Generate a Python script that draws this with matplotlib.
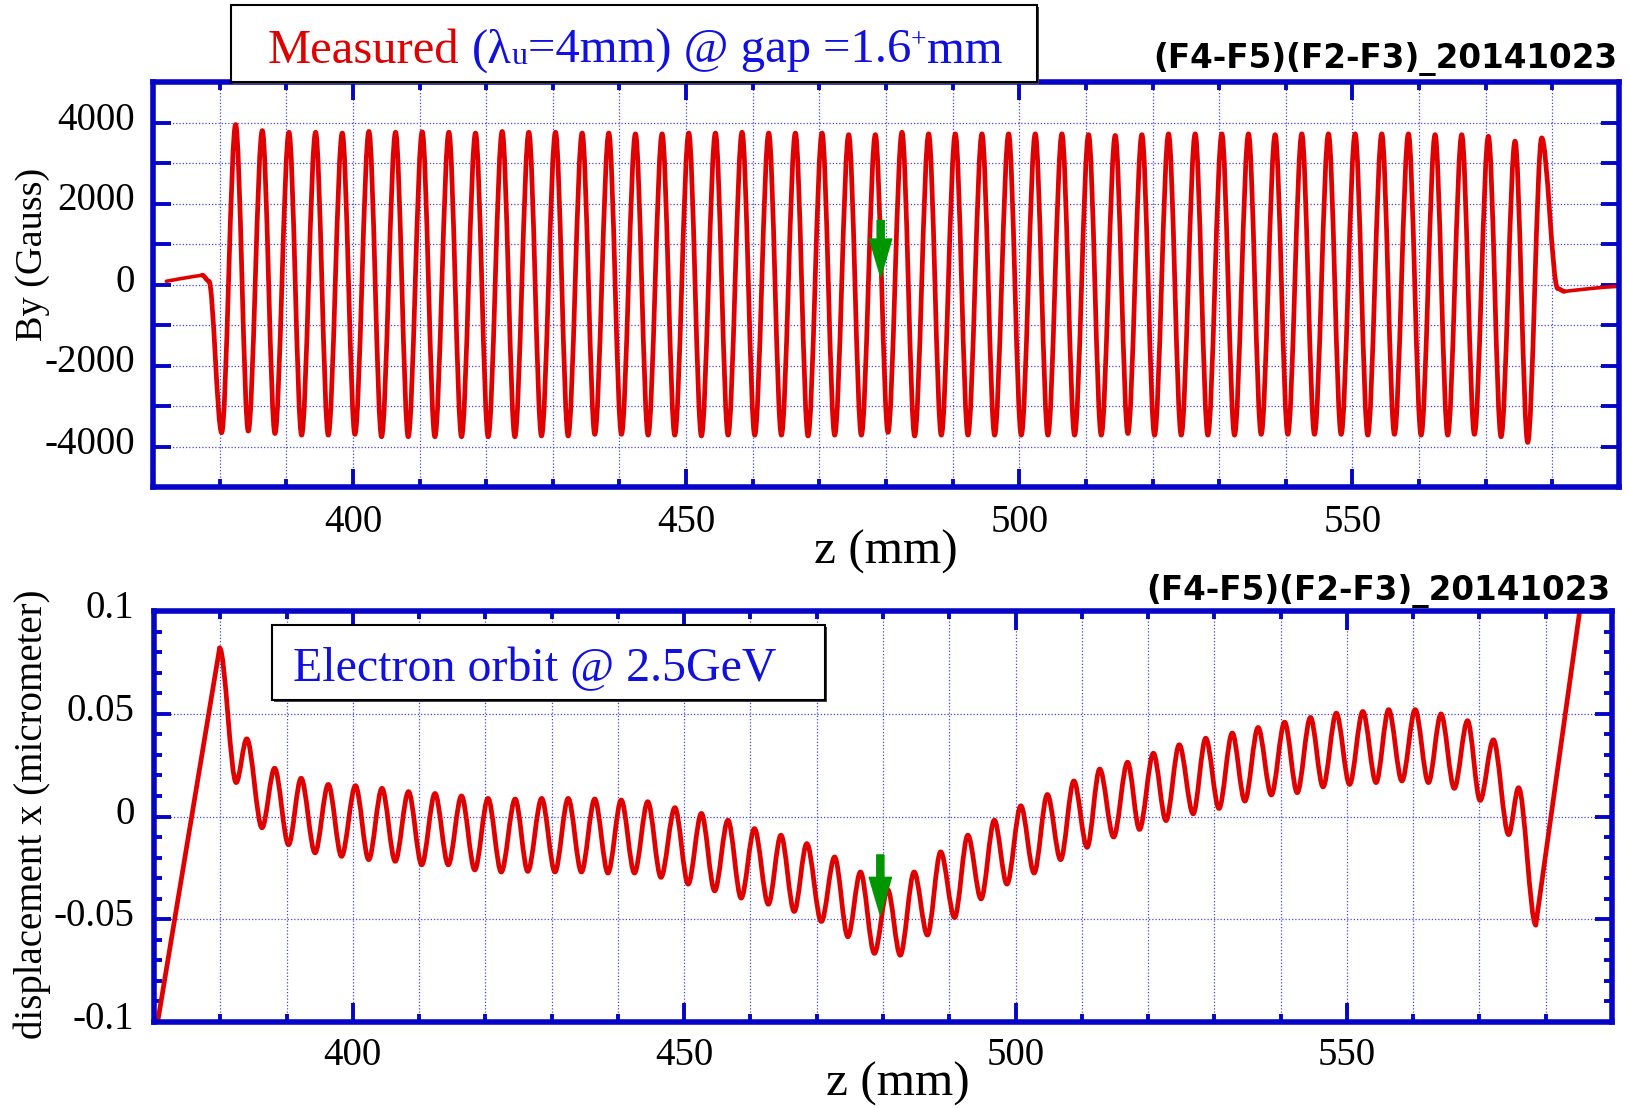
import matplotlib
matplotlib.use('Agg')
import matplotlib.pyplot as plt
from matplotlib.path import Path
from matplotlib.patches import PathPatch, Rectangle, FancyArrowPatch
from matplotlib.ticker import MultipleLocator, FuncFormatter
from matplotlib.transforms import ScaledTranslation

plt.rcParams['axes.unicode_minus'] = False

# ---------------- data ----------------
# Top panel: By (Gauss) vs z (mm)
by_lead_z = [372.0, 374.0, 376.0, 377.4]
by_lead = [80, 140, 195, 230]
by_in_z = [377.4, 378.4]
by_in = [230, 80]
by_trough_z = [380.3, 384.3, 388.3, 392.3, 396.3, 400.3, 404.3, 408.3, 412.3, 416.3,
               420.3, 424.3, 428.3, 432.3, 436.3, 440.3, 444.3, 448.3, 452.3, 456.3,
               460.3, 464.3, 468.3, 472.3, 476.3, 480.3, 484.3, 488.3, 492.3, 496.3,
               500.3, 504.3, 508.3, 512.3, 516.3, 520.3, 524.3, 528.3, 532.3, 536.3,
               540.3, 544.3, 548.3, 552.3, 556.3, 560.3, 564.3, 568.3, 572.3, 576.3]
by_trough = [-3660, -3620, -3680, -3720, -3720, -3700, -3760, -3760, -3760, -3760,
             -3760, -3760, -3740, -3740, -3700, -3700, -3720, -3720, -3740, -3720,
             -3720, -3720, -3740, -3720, -3720, -3650, -3740, -3720, -3720, -3720,
             -3720, -3720, -3720, -3720, -3680, -3720, -3720, -3720, -3720, -3700,
             -3700, -3700, -3700, -3720, -3700, -3720, -3720, -3700, -3760, -3900]
by_peak_z = [382.4, 386.4, 390.4, 394.4, 398.4, 402.4, 406.4, 410.4, 414.4, 418.4,
             422.4, 426.4, 430.4, 434.4, 438.4, 442.4, 446.4, 450.4, 454.4, 458.4,
             462.4, 466.4, 470.4, 474.4, 478.4, 482.4, 486.4, 490.4, 494.4, 498.4,
             502.4, 506.4, 510.4, 514.4, 518.4, 522.4, 526.4, 530.4, 534.4, 538.4,
             542.4, 546.4, 550.4, 554.4, 558.4, 562.4, 566.4, 570.4, 574.4, 578.4]
by_peak = [3950, 3800, 3760, 3760, 3740, 3780, 3760, 3770, 3760, 3740,
           3780, 3760, 3760, 3740, 3740, 3720, 3720, 3740, 3740, 3760,
           3740, 3740, 3740, 3700, 3700, 3760, 3720, 3720, 3720, 3720,
           3720, 3720, 3700, 3680, 3700, 3720, 3720, 3720, 3720, 3700,
           3720, 3720, 3720, 3720, 3720, 3700, 3700, 3660, 3540, 3620]
by_out_z = [580.8, 581.8]
by_out = [-100, -170]
by_tail_z = [581.8, 584.0, 586.0, 588.0, 590.0]
by_tail = [-170, -130, -95, -65, -45]

# Bottom panel: displacement x (micrometer) vs z (mm)
orb_in_z = [370.5, 379.9]
orb_in = [-0.101, 0.082]
orb_ext_z = [379.9, 382.4, 384.0, 386.3, 388.2, 390.3, 392.2, 394.3, 396.3, 398.3,
             400.4, 402.4, 404.4, 406.4, 408.4, 410.4, 412.4, 414.4, 416.4, 418.4,
             420.4, 422.4, 424.5, 426.4, 428.5, 430.5, 432.5, 434.5, 436.5, 438.5,
             440.5, 442.5, 444.5, 446.5, 448.6, 450.6, 452.6, 454.6, 456.6, 458.6,
             460.6, 462.7, 464.6, 466.6, 468.5, 470.7, 472.7, 474.7, 476.6, 478.7,
             480.7, 482.6, 484.7, 486.7, 488.7, 490.8, 492.8, 494.8, 496.8, 498.7,
             500.8, 502.8, 504.8, 506.8, 508.8, 510.8, 512.7, 514.8, 516.9, 518.7,
             520.8, 522.7, 524.7, 526.8, 528.7, 530.7, 532.7, 534.6, 536.6, 538.6,
             540.6, 542.5, 544.5, 546.4, 548.4, 550.4, 552.4, 554.4, 556.3, 558.3,
             560.3, 562.3, 564.2, 566.2, 568.2, 570.1, 572.1, 574.4, 575.9, 578.5]
orb_ext = [0.0820, 0.0165, 0.0378, -0.0055, 0.0235, -0.0137, 0.0186, -0.0177, 0.0156, -0.0194,
           0.0150, -0.0210, 0.0137, -0.0218, 0.0121, -0.0235, 0.0112, -0.0235, 0.0100, -0.0260,
           0.0088, -0.0270, 0.0085, -0.0267, 0.0088, -0.0270, 0.0088, -0.0270, 0.0085, -0.0275,
           0.0080, -0.0275, 0.0072, -0.0296, 0.0043, -0.0329, 0.0015, -0.0362, -0.0018, -0.0397,
           -0.0059, -0.0427, -0.0091, -0.0462, -0.0132, -0.0511, -0.0197, -0.0585, -0.0270, -0.0666,
           -0.0355, -0.0675, -0.0270, -0.0577, -0.0172, -0.0492, -0.0091, -0.0401, -0.0018, -0.0329,
           0.0052, -0.0275, 0.0107, -0.0210, 0.0173, -0.0150, 0.0231, -0.0100, 0.0264, -0.0063,
           0.0308, -0.0020, 0.0349, 0.0013, 0.0381, 0.0039, 0.0406, 0.0075, 0.0433, 0.0105,
           0.0459, 0.0116, 0.0482, 0.0144, 0.0503, 0.0156, 0.0511, 0.0165, 0.0520, 0.0173,
           0.0520, 0.0165, 0.0499, 0.0137, 0.0466, 0.0078, 0.0373, -0.0088, 0.0140, -0.0528]
orb_out_z = [578.5, 585.3]
orb_out = [-0.0528, 0.104]

# marker arrows (z, top, tip)
arrow1 = (479.2, 1580, 190)
arrow2 = (479.6, -0.0187, -0.048)

title_top = "(F4-F5)(F2-F3)_20141023"
title_bot = "(F4-F5)(F2-F3)_20141023"

# ---------------- style ----------------
W, H = 1631, 1108
BLUE = '#0505C8'
GRID = '#4646EE'
RED = '#E10000'
GREEN = '#009600'
TXTBLUE = '#1010E0'
SERIF = 'Liberation Serif'

fig = plt.figure(figsize=(W / 100, H / 100), dpi=100)


def px_axes(l, t, r, b):
    return fig.add_axes([l / W, 1 - b / H, (r - l) / W, (b - t) / H])


ax1 = px_axes(153, 82, 1619, 487)
ax2 = px_axes(154, 611, 1612, 1022)


def fmt(v, p):
    if abs(v) < 1e-12:
        return '0'
    return '%g' % round(v, 6)


def style(ax, ymaj, ymin, ymaj_len, ymin_len, ygrid_which, ylabpad, xlabpad, xmaj_len):
    for s in ax.spines.values():
        s.set_linewidth(4)
        s.set_color(BLUE)
        s.set_zorder(5)
    ax.set_xlim(370, 590)
    ax.xaxis.set_major_locator(MultipleLocator(50))
    ax.xaxis.set_minor_locator(MultipleLocator(10))
    ax.yaxis.set_major_locator(MultipleLocator(ymaj))
    ax.yaxis.set_minor_locator(MultipleLocator(ymin))
    ax.yaxis.set_major_formatter(FuncFormatter(fmt))
    ax.tick_params(which='both', direction='in', top=True, right=True,
                   color=BLUE, width=2.8, labelsize=28, labelfontfamily=SERIF,
                   labelcolor='black')
    ax.tick_params(axis='x', which='major', length=xmaj_len, pad=xlabpad)
    ax.tick_params(axis='x', which='minor', length=6)
    ax.tick_params(axis='y', which='major', length=ymaj_len, pad=ylabpad)
    ax.tick_params(axis='y', which='minor', length=ymin_len)
    ax.set_axisbelow(True)
    gkw = dict(color=GRID, linestyle=(0, (1, 1.6)), linewidth=0.9)
    ax.grid(True, axis='x', which='both', **gkw)
    ax.grid(True, axis='y', which=ygrid_which, **gkw)


style(ax1, 2000, 1000, 13, 13, 'both', 13, 12, 13)
style(ax2, 0.05, 0.01, 12, 6, 'major', 14, 10.5, 14)
ax1.set_ylim(-5000, 5000)
ax2.set_ylim(-0.1, 0.1)


def smooth_chain(ax, xs, ys, **kw):
    c = 1.0 / 3.0
    verts = [(xs[0], ys[0])]
    codes = [Path.MOVETO]
    for x0, y0, x1, y1 in zip(xs[:-1], ys[:-1], xs[1:], ys[1:]):
        dx = x1 - x0
        verts += [(x0 + c * dx, y0), (x1 - c * dx, y1), (x1, y1)]
        codes += [Path.CURVE4] * 3
    ax.add_patch(PathPatch(Path(verts, codes), fill=False, **kw))


LW = 3.4
ckw = dict(edgecolor=RED, linewidth=LW, zorder=3, capstyle='round', joinstyle='round')
lkw = dict(color=RED, linewidth=LW, zorder=3, solid_capstyle='round')

# top curve
osc = sorted(zip(by_trough_z + by_peak_z, by_trough + by_peak))
chain_z = by_in_z + [p[0] for p in osc] + by_out_z
chain_v = by_in + [p[1] for p in osc] + by_out
ax1.plot(by_lead_z, by_lead, color=RED, linewidth=2.6, zorder=3, solid_capstyle='round')
smooth_chain(ax1, chain_z, chain_v, **ckw)
ax1.plot(by_tail_z, by_tail, color=RED, linewidth=2.6, zorder=3, solid_capstyle='round')

# bottom curve
ax2.plot(orb_in_z, orb_in, **lkw)
smooth_chain(ax2, orb_ext_z, orb_ext, **ckw)
ax2.plot(orb_out_z, orb_out, **lkw)

# arrows
for ax, (az, atop, atip) in ((ax1, arrow1), (ax2, arrow2)):
    ar = FancyArrowPatch((az, atop), (az, atip),
                         arrowstyle='simple,head_length=1.7,head_width=1.0,tail_width=0.32',
                         mutation_scale=16, color=GREEN, shrinkA=0, shrinkB=0, zorder=4)
    ax.add_patch(ar)

# labels
ax1.set_ylabel('By (Gauss)', fontsize=27.5, family=SERIF)
ax1.yaxis.set_label_coords(-0.0703, 0.573)
ax1.set_xlabel('z (mm)', fontsize=35.5, family=SERIF)
ax1.xaxis.set_label_coords(0.5, -0.106)
ax2.set_ylabel('displacement x (micrometer)', fontsize=28, family=SERIF)
ax2.yaxis.set_label_coords(-0.0706, 0.506)
ax2.set_xlabel('z (mm)', fontsize=35.5, family=SERIF)
ax2.xaxis.set_label_coords(0.51, -0.096)

# y tick labels sit a little above their grid lines in the original
shift = ScaledTranslation(0, 7 / 100, fig.dpi_scale_trans)
for ax in (ax1, ax2):
    for tk in ax.yaxis.get_major_ticks():
        tk.label1.set_transform(tk.label1.get_transform() + shift)

# headers
fig.text(1617 / W, 1 - 68 / H, title_top, ha='right', va='baseline',
         fontsize=23.5, fontweight='bold', family='DejaVu Sans', color='black')
fig.text(1610 / W, 1 - 600 / H, title_bot, ha='right', va='baseline',
         fontsize=23.5, fontweight='bold', family='DejaVu Sans', color='black')


# boxes
def box(l, t, r, b):
    sh = Rectangle(((l + 2) / W, 1 - (b + 2) / H), (r - l) / W, (b - t) / H,
                   transform=fig.transFigure, facecolor='#444444', edgecolor='none', zorder=6)
    fig.add_artist(sh)
    rc = Rectangle((l / W, 1 - b / H), (r - l) / W, (b - t) / H,
                   transform=fig.transFigure, facecolor='white', edgecolor='black',
                   linewidth=1.5, zorder=6.5)
    fig.add_artist(rc)


box(231, 5, 1037, 82)
box(272, 625, 825, 700)

renderer = fig.canvas.get_renderer()


def rich(x, y, pieces):
    for s, color, size, dy in pieces:
        if s == ' ':
            x += 0.25 * size * 100 / 72
            continue
        t = fig.text(x / W, 1 - (y - dy) / H, s, ha='left', va='baseline',
                     fontsize=size, color=color, family=SERIF, zorder=7)
        x += t.get_window_extent(renderer).width


BIG = 35
rich(268, 63, [('Measured', RED, BIG, 0), (' ', None, BIG, 0),
               ('(\u03bb', TXTBLUE, BIG, 0), ('u', TXTBLUE, 23, -1),
               ('=4mm) @ gap =1.6', TXTBLUE, BIG, 0), ('+', TXTBLUE, 20, 16),
               ('mm', TXTBLUE, BIG, 0)])
rich(293, 681, [('Electron orbit @ 2.5GeV', TXTBLUE, 34.5, 0)])

fig.savefig('out.png', dpi=100)
